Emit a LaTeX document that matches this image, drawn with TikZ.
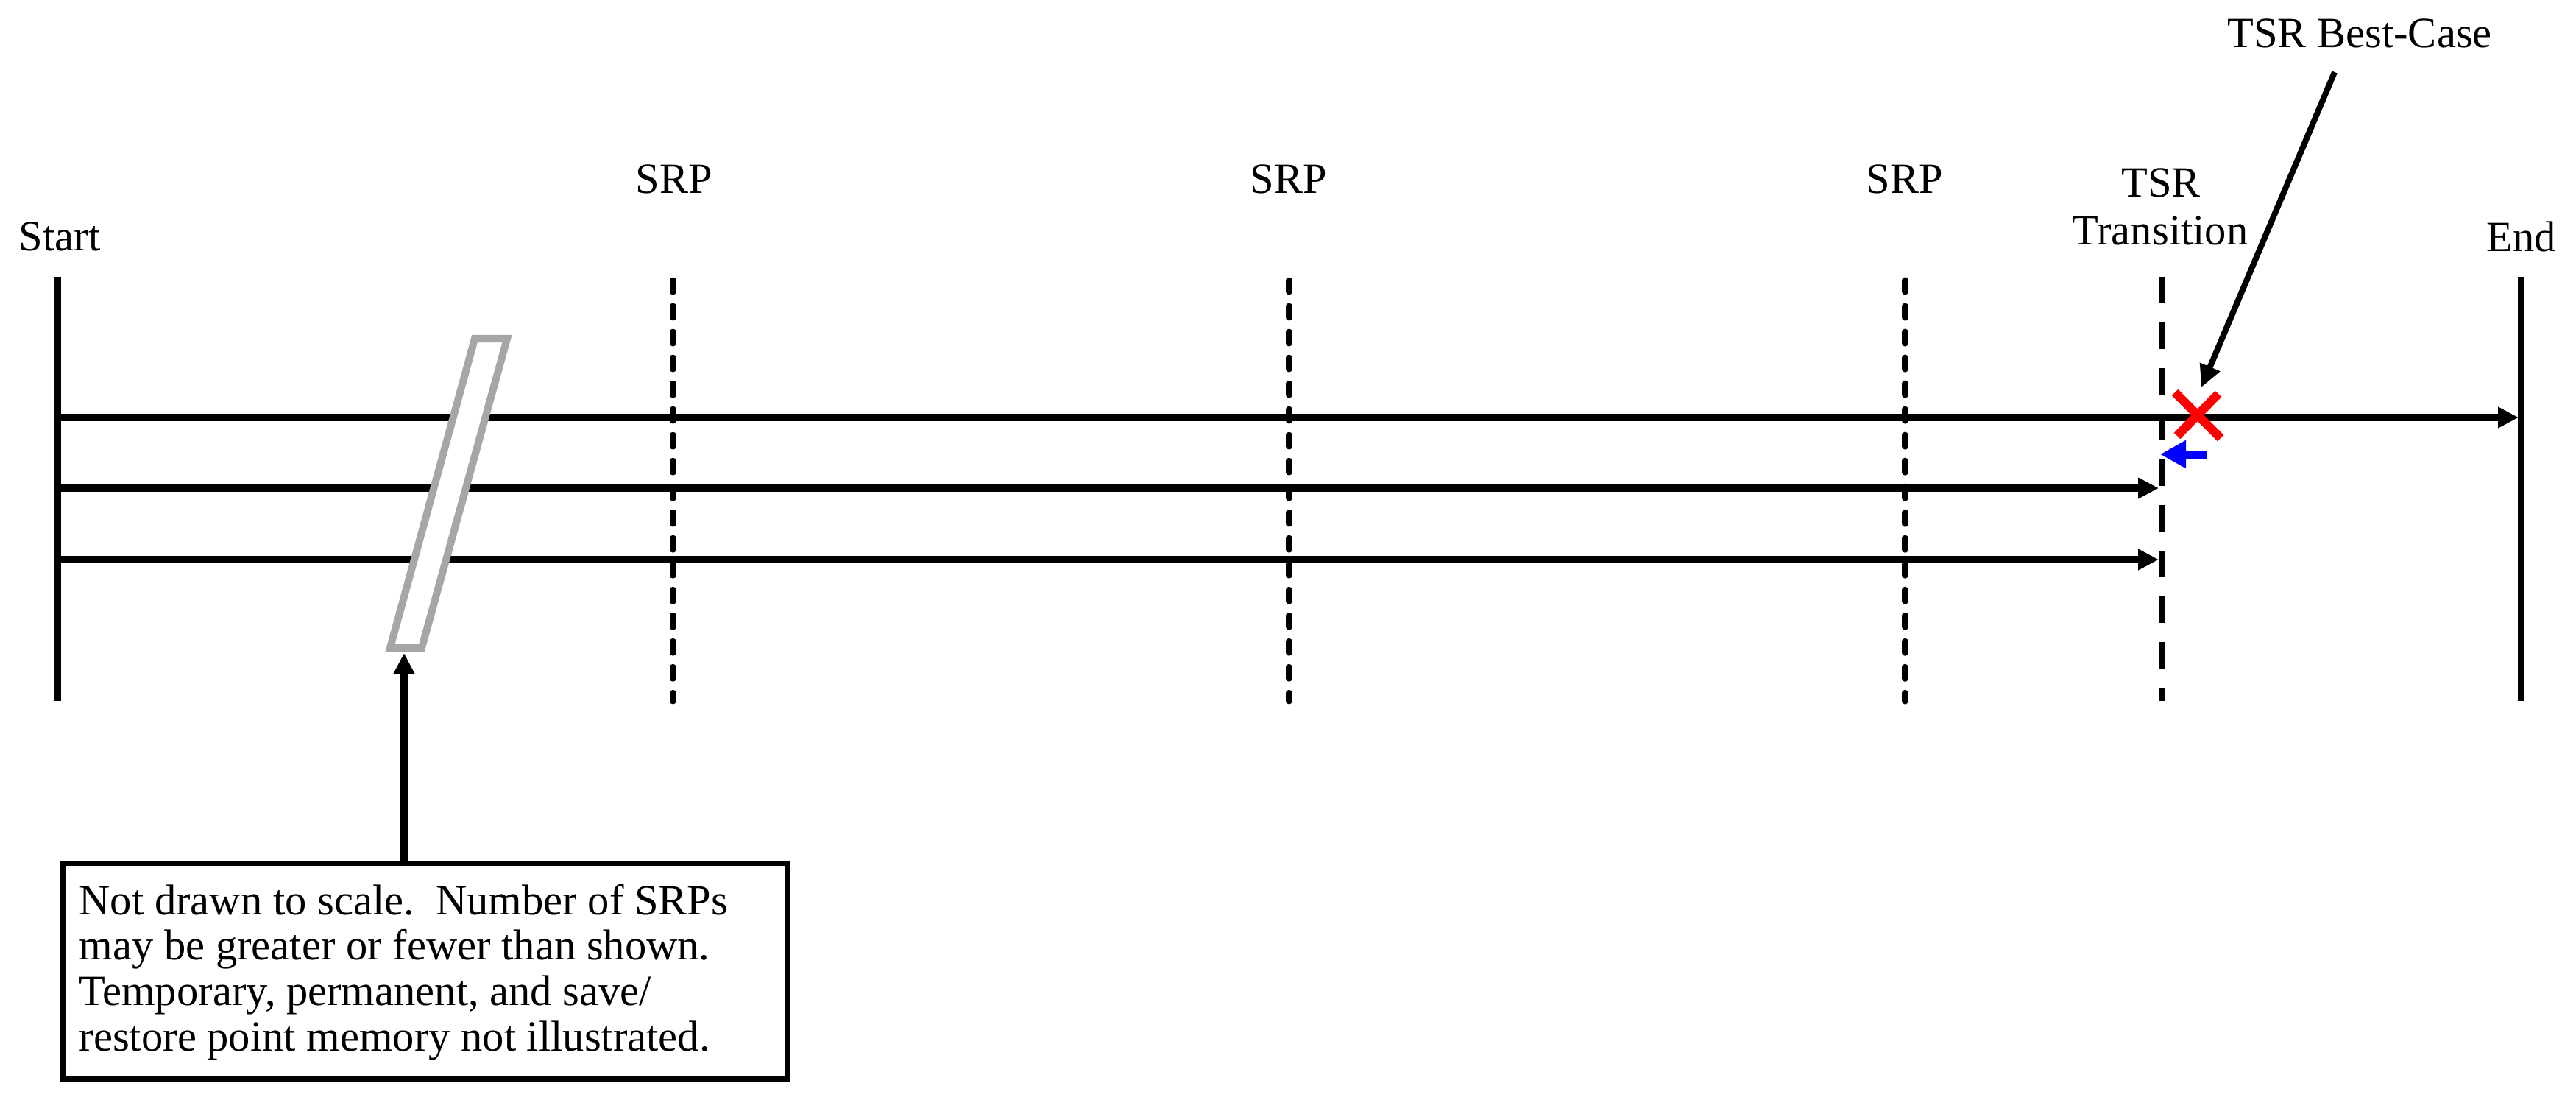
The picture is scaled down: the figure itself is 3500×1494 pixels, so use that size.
\documentclass[tikz,border=0pt]{standalone}
\usepackage{fontspec}
\setmainfont{Liberation Serif}
\usetikzlibrary{arrows.meta}
\definecolor{slashgray}{RGB}{166,166,166}
\definecolor{xred}{RGB}{255,0,0}
\definecolor{xblue}{RGB}{0,0,255}
\begin{document}
\begin{tikzpicture}[x=0.01cm,y=-0.01cm,
  lbl/.style={font=\fontsize{16.65}{17.6}\selectfont, inner sep=0pt, anchor=base},
  hline/.style={line width=0.095cm},
  arr/.style={hline, -{Triangle[length=0.28cm,width=0.27cm]}},
  vsolid/.style={line width=0.09cm},
  srpdash/.style={line width=0.09cm, line cap=round, dash pattern=on 0.15cm off 0.20cm},
  tsrdash/.style={line width=0.09cm, dash pattern=on 0.36cm off 0.26cm},
  slashbox/.style={line width=0.10cm, draw=slashgray, fill=white, line join=miter},
  notebox/.style={draw, line width=0.07cm, anchor=north west, minimum width=9.83cm, minimum height=2.93cm, inner sep=0pt, outer sep=0pt},
  redx/.style={draw=xred, line width=0.12cm},
  bluearr/.style={draw=xblue, line width=0.11cm, -{Triangle[length=0.35cm,width=0.36cm]}},
  callout/.style={line width=0.08cm, -{Triangle[length=0.30cm,width=0.28cm]}}
]
\useasboundingbox (0,0) rectangle (3500,1494);
\fill[white] (0,0) rectangle (3500,1494);

% coordinates of the time lines
\coordinate (st) at (78,376);   \coordinate (sb) at (78,952);
\coordinate (e t) at (3425,376); \coordinate (eb) at (3425,952);
\coordinate (r1t) at (914,381);  \coordinate (r1b) at (914,952);
\coordinate (r2t) at (1751,381); \coordinate (r2b) at (1751,952);
\coordinate (r3t) at (2588,381); \coordinate (r3b) at (2588,952);
\coordinate (tt) at (2937,376);  \coordinate (tb) at (2937,952);

\coordinate (h1s) at (78,567); \coordinate (h1e) at (3422,567);
\coordinate (h2s) at (78,663); \coordinate (h2e) at (2933,663);
\coordinate (h3s) at (78,760); \coordinate (h3e) at (2933,760);

% labels
\node[lbl] (start) at (81,340) {Start};
\node[lbl] (end) at (3426,341) {End};
\node[lbl] (srp1) at (916,262) {SRP};
\node[lbl] (srp2) at (1751,262) {SRP};
\node[lbl] (srp3) at (2588,262) {SRP};
\node[lbl] (tsr) at (2936,268) {TSR};
\node[lbl] (trans) at (2935,332) {Transition};
\node[lbl] (best) at (3206,65) {TSR Best-Case};

% horizontal runs
\draw[arr] (h1s) -- (h1e);
\draw[arr] (h2s) -- (h2e);
\draw[arr] (h3s) -- (h3e);

% vertical lines
\draw[vsolid] (st) -- (sb);
\draw[vsolid] (e t) -- (eb);
\draw[srpdash] (r1t) -- (r1b);
\draw[srpdash] (r2t) -- (r2b);
\draw[srpdash] (r3t) -- (r3b);
\draw[tsrdash] (tt) -- (tb);

% break mark
\draw[slashbox] (645,460) -- (689,460) -- (573,880) -- (530,880) -- cycle;
\coordinate (slashbot) at (549,887);

% note box
\node[notebox] (box) at (86,1172) {};
\node[lbl, anchor=base west] (note) at (107,1242) {\parbox[t]{9.6cm}{\raggedright
Not drawn to scale.\ \ Number of SRPs\\
may be greater or fewer than shown.\\
Temporary, permanent, and save/\\
restore point memory not illustrated.}};
\draw[arr] (box.north -| slashbot) -- (slashbot);

% best case marker
\coordinate (cstart) at (3172,98);
\coordinate (ctip) at (2991,526);
\draw[callout] (cstart) -- (ctip);
\draw[redx] (2955,533) -- (3017,595);
\draw[redx] (3014,535) -- (2958,592);
\coordinate (bs) at (2998,617);
\coordinate (be) at (2935,617);
\draw[bluearr] (bs) -- (be);
\end{tikzpicture}
\end{document}
